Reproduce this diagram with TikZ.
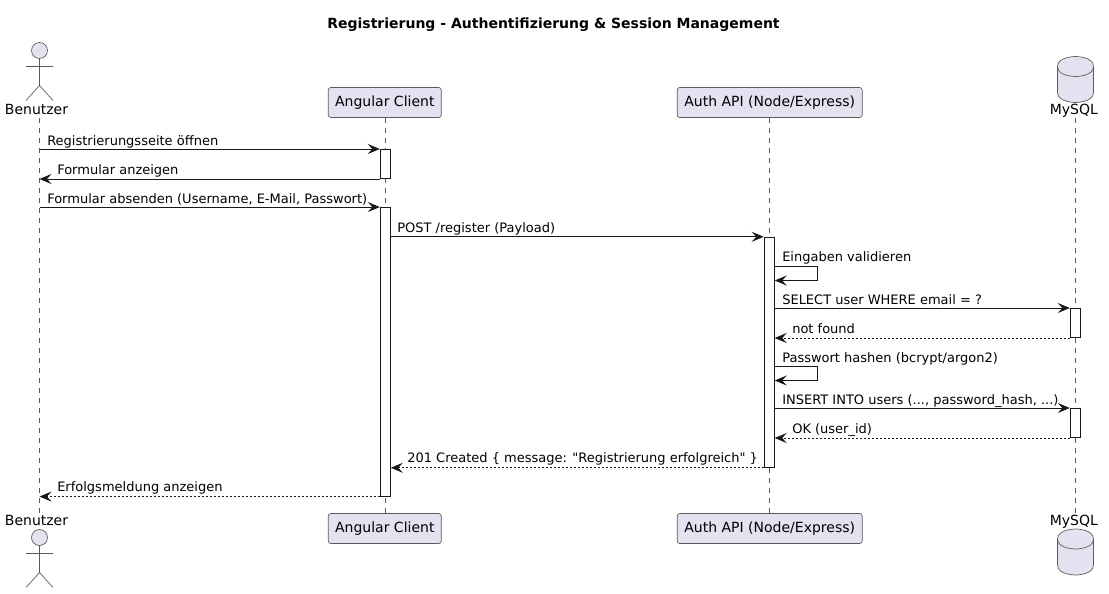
\documentclass[tikz,border=0pt]{standalone}
\usepackage{fontspec}
\setmainfont{DejaVu Sans}
\newfontfamily\plainfont{DejaVu Sans}
\usetikzlibrary{arrows.meta}
\definecolor{partfill}{HTML}{E2E2F0}
\definecolor{partline}{HTML}{181818}
\definecolor{softline}{HTML}{5A5A5A}
\tikzset{
  x=0.75pt,y=-0.75pt,
  part/.style={draw=softline,fill=partfill,line width=0.5pt,rounded corners=1.9pt,inner sep=0pt,minimum height=22.5pt,font=\fontsize{10.5}{12}\selectfont},
  partlabel/.style={inner sep=0pt,anchor=base,font=\fontsize{10.5}{12}\selectfont},
  figure/.style={draw=softline,line width=0.5pt},
  glyph/.style={draw=softline,fill=partfill,line width=0.5pt},
  life/.style={draw=softline,line width=0.4pt,dash pattern=on 3.75pt off 3.75pt},
  bar/.style={draw=partline,fill=white,line width=0.75pt,inner sep=0pt,minimum width=7.5pt},
  msg/.style={draw=partline,line width=0.75pt,-{Stealth[length=9pt,width=7.5pt,inset=3.4pt]}},
  ret/.style={msg,dash pattern=on 1.5pt off 1.5pt},
  lbl/.style={inner sep=0pt,anchor=base west,font=\fontsize{9.75}{12}\selectfont},
}
\newcommand{\actorfig}[2]{%
  \draw[glyph] (#1,#2) circle[radius=6pt];
  \draw[figure] (#1,#2+8) -- (#1,#2+35) (#1-13.5,#2+16) -- (#1+13.5,#2+16)
    (#1-13.5,#2+50) -- (#1,#2+35) -- (#1+13.5,#2+50);
}
\newcommand{\dbfig}[2]{%
  \draw[glyph] (#1-18,#2+10) .. controls (#1-18,#2) and (#1,#2) .. (#1,#2)
    .. controls (#1,#2) and (#1+18,#2) .. (#1+18,#2+10) -- (#1+18,#2+36)
    .. controls (#1+18,#2+46) and (#1,#2+46) .. (#1,#2+46)
    .. controls (#1,#2+46) and (#1-18,#2+46) .. (#1-18,#2+36) -- cycle;
  \draw[figure] (#1-18,#2+10) .. controls (#1-18,#2+20) and (#1,#2+20) .. (#1,#2+20)
    .. controls (#1,#2+20) and (#1+18,#2+20) .. (#1+18,#2+10);
}
\begin{document}
\begin{tikzpicture}
\useasboundingbox (0,0) rectangle (1109,593);
\node[inner sep=0pt,anchor=base,font=\fontsize{10.5}{12}\selectfont\bfseries] (title) at (553.5,28) {Registrierung - Authentifizierung \& Session Management};

% participant heads and feet
\node[part,minimum width=84.75pt] (cliT) at (384.8,102.5) {Angular Client};
\node[part,minimum width=84.75pt] (cliB) at (384.8,528.5) {Angular Client};
\node[part,minimum width=138.75pt] (apiT) at (769.7,102.5) {Auth API (Node/Express)};
\node[part,minimum width=138.75pt] (apiB) at (769.7,528.5) {Auth API (Node/Express)};
\actorfig{39.5}{50.5}
\actorfig{39.5}{537.5}
\node[partlabel] (benT) at (36.5,114.5) {Benutzer};
\node[partlabel] (benB) at (36.5,525.5) {Benutzer};
\dbfig{1075.5}{56.5}
\dbfig{1075.5}{529}
\node[partlabel] (dbT) at (1073.8,114.5) {MySQL};
\node[partlabel] (dbB) at (1073.8,525.5) {MySQL};

% lifelines
\coordinate (benTop) at (39.5,118);
\coordinate (benBot) at (39.5,513);
\coordinate (dbTop) at (1075.5,118);
\coordinate (dbBot) at (1075.5,513);
\draw[life] (benTop) -- (benBot);
\draw[life] (dbTop) -- (dbBot);
\draw[life] (cliT.south) -- (cliB.north);
\draw[life] (apiT.south) -- (apiB.north);

% activation bars
\node[bar,minimum height=21.75pt] (a1) at (385.3,164) {};
\node[bar,minimum height=216.4pt] (a2) at (385.3,351.8) {};
\node[bar,minimum height=172.5pt] (b1) at (769.2,352.3) {};
\node[bar,minimum height=21.75pt] (d1) at (1075.3,323) {};
\node[bar,minimum height=21.75pt] (d2) at (1075.3,423) {};

% messages
\draw[msg] (benTop |- a1.north) -- (a1.north west);
\node[lbl] (m1) at (47,145) {Registrierungsseite öffnen};
\draw[msg] (a1.south west) -- (benTop |- a1.south);
\node[lbl] (m2) at (57,174) {Formular anzeigen};
\draw[msg] (benTop |- a2.north) -- (a2.north west);
\node[lbl] (m3) at (47,203) {Formular absenden (Username, E-Mail, Passwort)};
\draw[msg] (a2.east |- b1.north) -- (b1.north west);
\node[lbl] (m4) at (397,232.5) {POST /register (Payload)};
\draw[msg] (b1.east |- 0,266.5) -- (817,266.5) -- (817,280.5) -- (b1.east |- 0,280.5);
\node[lbl] (m5) at (782,261.5) {Eingaben validieren};
\draw[msg] (b1.east |- d1.north) -- (d1.north west);
\node[lbl] (m6) at (782,304) {SELECT user WHERE email = ?};
\draw[ret] (d1.south west) -- (b1.east |- d1.south);
\node[lbl] (m7) at (792,333) {not found};
\draw[msg] (b1.east |- 0,366.5) -- (817,366.5) -- (817,380.5) -- (b1.east |- 0,380.5);
\node[lbl] (m8) at (782,362) {Passwort hashen (bcrypt/argon2)};
\draw[msg] (b1.east |- d2.north) -- (d2.north west);
\node[lbl] (m9) at (782,404) {INSERT INTO users (..., password\_hash, ...)};
\draw[ret] (d2.south west) -- (b1.east |- d2.south);
\node[lbl] (m10) at (792,433) {OK (user\_id)};
\draw[ret] (b1.south west) -- (a2.east |- b1.south);
\node[lbl] (m11) at (407,462.5) {\plainfont 201 Created \{ message: "Registrierung erfolgreich" \}};
\draw[ret] (a2.south west) -- (benTop |- a2.south);
\node[lbl] (m12) at (57,491.5) {Erfolgsmeldung anzeigen};
\end{tikzpicture}
\end{document}
